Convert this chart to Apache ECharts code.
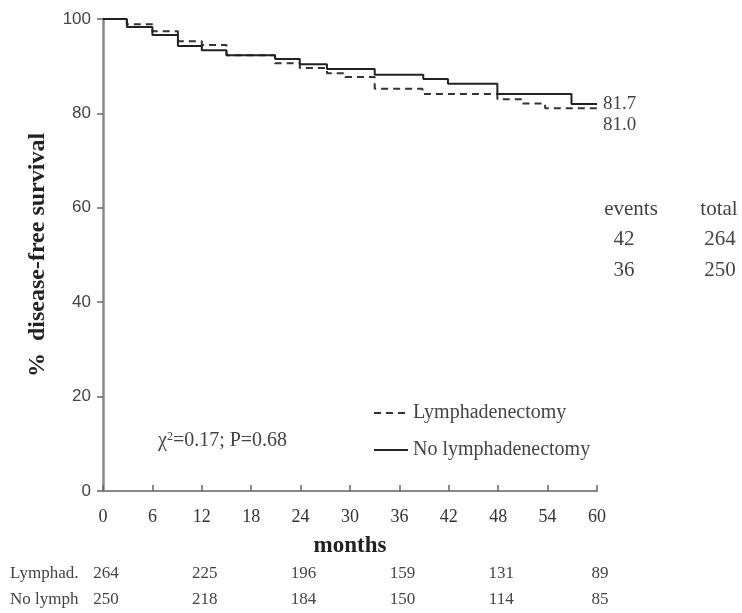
<!DOCTYPE html>
<html>
<head>
<meta charset="utf-8">
<script src="https://cdn.jsdelivr.net/npm/echarts@6/dist/echarts.min.js"></script>
<style>
  html, body { margin: 0; padding: 0; background: #fff; }
  #main { width: 742px; height: 613px; }
</style>
</head>
<body>
<div id="main"></div>
<script>
// Kaplan-Meier curves (months, % disease-free)
var lymphTimes = [0, 2.9, 6, 9.1, 12, 15, 20.9, 23.9, 27.2, 29.4, 33, 38.8, 47.9, 50.9, 53.7, 60];
var lymphValues = [100, 98.9, 97.4, 95.3, 94.5, 92.3, 90.6, 89.6, 88.5, 87.7, 85.2, 84.1, 83.0, 82.1, 81.1, 81.1];
var noLymphTimes = [0, 2.9, 6, 9.1, 12, 15, 20.9, 23.9, 27.2, 33, 38.9, 41.9, 47.9, 56.9, 60];
var noLymphValues = [100, 98.3, 96.6, 94.3, 93.4, 92.3, 91.5, 90.4, 89.4, 88.2, 87.3, 86.3, 84.1, 82.0, 82.0];

var xTicks = [0, 6, 12, 18, 24, 30, 36, 42, 48, 54, 60];
var yTicks = [0, 20, 40, 60, 80, 100];

// numbers at risk
var riskMonths = [0, 12, 24, 36, 48, 60];
var riskLymph = [264, 225, 196, 159, 131, 89];
var riskNoLymph = [250, 218, 184, 150, 114, 85];
var riskRowNames = ['Lymphad.', 'No lymph'];

var seriesNames = ['Lymphadenectomy', 'No lymphadenectomy'];
var endLabels = ['81.7', '81.0'];
var events = [42, 36];
var totals = [264, 250];

function pairs(t, v) {
  var out = [];
  for (var i = 0; i < t.length; i++) out.push([t[i], v[i]]);
  return out;
}

var serif = '"Liberation Serif", "DejaVu Serif", serif';
var myChart = echarts.init(document.getElementById('main'));

var option = {
  animation: false,
  backgroundColor: '#fff',
  grid: { left: 103, right: 145, top: 19, bottom: 122 },
  legend: {
    orient: 'vertical',
    left: 368,
    top: 398,
    itemGap: 17,
    itemWidth: 34,
    itemHeight: 12,
    itemStyle: { opacity: 0 },
    textStyle: { fontFamily: serif, fontSize: 20, color: '#444' },
    data: seriesNames
  },
  xAxis: {
    type: 'value',
    min: 0,
    max: 60,
    interval: 6,
    name: 'months',
    nameLocation: 'middle',
    nameGap: 44,
    nameTextStyle: { fontFamily: serif, fontSize: 23, fontWeight: 'bold', color: '#222' },
    axisLine: { lineStyle: { color: '#888', width: 2 } },
    axisTick: { inside: true, length: 6, lineStyle: { color: '#666', width: 1.5 } },
    axisLabel: { fontFamily: serif, fontSize: 18, color: '#333', margin: 17 },
    splitLine: { show: false }
  },
  yAxis: {
    type: 'value',
    min: 0,
    max: 100,
    interval: 20,
    name: '%  disease-free survival',
    nameLocation: 'middle',
    nameRotate: 90,
    nameGap: 53,
    nameTextStyle: { fontFamily: serif, fontSize: 24, fontWeight: 'bold', color: '#222' },
    axisLine: { show: true, lineStyle: { color: '#888', width: 2.5 } },
    axisTick: { show: true, length: 6, lineStyle: { color: '#666', width: 1.5 } },
    axisLabel: { fontFamily: '"Liberation Sans", Arial, sans-serif', fontSize: 17, color: '#444', margin: 12 },
    splitLine: { show: false }
  },
  series: [
    {
      name: seriesNames[0],
      type: 'line',
      step: 'end',
      symbol: 'none',
      lineStyle: { color: '#333', width: 2, type: [7, 5] },
      itemStyle: { color: '#333' },
      data: pairs(lymphTimes, lymphValues)
    },
    {
      name: seriesNames[1],
      type: 'line',
      step: 'end',
      symbol: 'none',
      lineStyle: { color: '#222', width: 2 },
      itemStyle: { color: '#222' },
      data: pairs(noLymphTimes, noLymphValues)
    }
  ]
};

myChart.setOption(option);

// annotations and the at-risk table, placed through the axes
function px(month, val) {
  return myChart.convertToPixel({ xAxisIndex: 0, yAxisIndex: 0 }, [month, val]);
}
function label(x, y, text, size, align) {
  return {
    type: 'text', x: x, y: y,
    style: { text: text, fontFamily: serif, fontSize: size, fill: '#444', align: align || 'left', verticalAlign: 'middle' }
  };
}
var g = [];

var endX = px(60, 0)[0] + 6;
g.push(label(endX, 104, endLabels[0], 19));
g.push(label(endX, 125, endLabels[1], 19));

g.push(label(631, 209, 'events', 21, 'center'));
g.push(label(719, 209, 'total', 21, 'center'));
for (var i = 0; i < events.length; i++) {
  g.push(label(624, 239 + i * 31, String(events[i]), 21, 'center'));
  g.push(label(720, 239 + i * 31, String(totals[i]), 21, 'center'));
}

g.push({
  type: 'text', x: 158, y: 441,
  style: {
    text: '\u03c7{sup|2}=0.17; P=0.68',
    fontFamily: serif, fontSize: 20, fill: '#444', verticalAlign: 'middle',
    rich: { sup: { fontFamily: serif, fontSize: 12, fill: '#444', verticalAlign: 'top', padding: [0, 0, 9, 0] } }
  }
});

var rows = [riskLymph, riskNoLymph];
for (var r = 0; r < rows.length; r++) {
  var ry = 574 + r * 26;
  g.push(label(10, ry, riskRowNames[r], 17));
  for (var j = 0; j < riskMonths.length; j++) {
    g.push(label(px(riskMonths[j], 0)[0] + 3, ry, String(rows[r][j]), 17, 'center'));
  }
}

myChart.setOption({ graphic: { elements: g } });
</script>
</body>
</html>
